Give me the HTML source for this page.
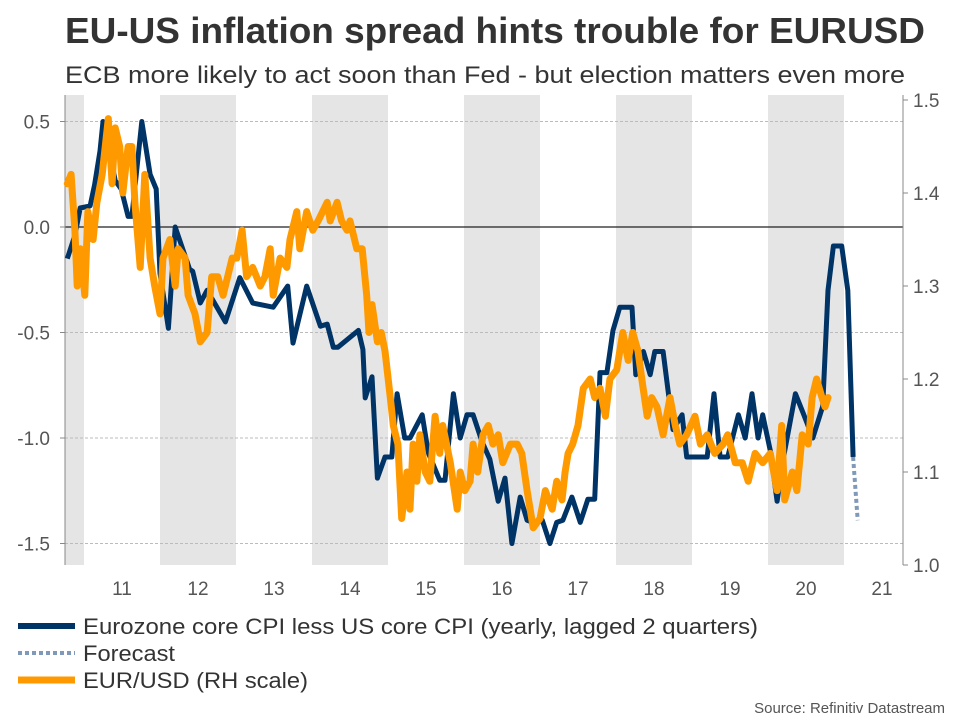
<!DOCTYPE html>
<html><head><meta charset="utf-8"><style>
body{margin:0;background:#fff;font-family:"Liberation Sans",sans-serif;}
svg text{font-family:"Liberation Sans",sans-serif;}
</style></head><body>
<svg id="chart" width="960" height="720" xmlns="http://www.w3.org/2000/svg">
<text x="65" y="43" font-size="36" font-weight="bold" fill="#333" textLength="860" lengthAdjust="spacingAndGlyphs">EU-US inflation spread hints trouble for EURUSD</text>
<text x="65" y="83" font-size="24" fill="#333" textLength="840" lengthAdjust="spacingAndGlyphs">ECB more likely to act soon than Fed - but election matters even more</text>
<g id="bands"></g><g id="grid"></g><g id="axes"></g><g id="series"></g>
<g>
<line x1="18" y1="626" x2="75" y2="626" stroke="#003366" stroke-width="6"/>
<text x="83" y="634" font-size="22" fill="#333" textLength="675" lengthAdjust="spacingAndGlyphs">Eurozone core CPI less US core CPI (yearly, lagged 2 quarters)</text>
<line x1="18" y1="653" x2="75" y2="653" stroke="#8099b8" stroke-width="4" stroke-dasharray="4,3"/>
<text x="83" y="661" font-size="22" fill="#333" textLength="92" lengthAdjust="spacingAndGlyphs">Forecast</text>
<line x1="18" y1="680" x2="75" y2="680" stroke="#ff9900" stroke-width="7"/>
<text x="83" y="688" font-size="22" fill="#333" textLength="225" lengthAdjust="spacingAndGlyphs">EUR/USD (RH scale)</text>
</g>
<text x="945" y="713" font-size="15" fill="#555" text-anchor="end">Source: Refinitiv Datastream</text>
</svg>
<script>
const yearLabels=["11","12","13","14","15","16","17","18","19","20","21"];
const leftTicks=[0.5,0,-0.5,-1,-1.5];
const leftTickLabels=["0.5","0.0","-0.5","-1.0","-1.5"];
const rightTicks=[1.5,1.4,1.3,1.2,1.1,1.0];
const rightTickLabels=["1.5","1.4","1.3","1.2","1.1","1.0"];
const bandStarts=[2010.75,2012,2014,2016,2018,2020];
const bandEnds=[2011,2013,2015,2017,2019,2021];
const spreadDates=[2010.78,2010.88,2010.95,2011.08,2011.14,2011.21,2011.25,2011.32,2011.41,2011.49,2011.58,2011.63,2011.76,2011.87,2011.95,2012.0,2012.11,2012.2,2012.39,2012.43,2012.53,2012.62,2012.86,2013.05,2013.22,2013.49,2013.68,2013.75,2013.93,2014.11,2014.2,2014.28,2014.34,2014.61,2014.67,2014.7,2014.79,2014.86,2014.96,2015.05,2015.12,2015.22,2015.29,2015.45,2015.53,2015.68,2015.75,2015.86,2015.95,2016.04,2016.12,2016.24,2016.34,2016.45,2016.54,2016.63,2016.74,2016.83,2016.91,2017.03,2017.13,2017.22,2017.3,2017.42,2017.53,2017.63,2017.72,2017.79,2017.88,2017.96,2018.05,2018.21,2018.26,2018.36,2018.45,2018.51,2018.62,2018.75,2018.87,2018.93,2019.07,2019.2,2019.29,2019.37,2019.47,2019.61,2019.7,2019.79,2019.87,2019.93,2020.03,2020.12,2020.2,2020.36,2020.46,2020.59,2020.72,2020.79,2020.86,2020.97,2021.05,2021.12];
const spreadValues=[-0.15,-0.04,0.09,0.10,0.20,0.36,0.50,0.39,0.22,0.18,0.05,0.05,0.50,0.25,0.18,-0.22,-0.48,0.00,-0.20,-0.21,-0.36,-0.30,-0.45,-0.24,-0.36,-0.38,-0.28,-0.55,-0.28,-0.47,-0.46,-0.57,-0.57,-0.49,-0.58,-0.81,-0.71,-1.19,-1.09,-1.09,-0.79,-1.00,-1.00,-0.89,-1.07,-1.20,-1.20,-0.79,-1.00,-0.89,-0.89,-1.02,-1.10,-1.30,-1.19,-1.50,-1.28,-1.39,-1.40,-1.39,-1.50,-1.40,-1.39,-1.28,-1.40,-1.29,-1.29,-0.69,-0.69,-0.49,-0.38,-0.38,-0.70,-0.59,-0.70,-0.59,-0.59,-0.96,-0.89,-1.09,-1.09,-1.09,-0.79,-1.09,-1.09,-0.89,-1.00,-0.79,-1.00,-0.89,-1.06,-1.30,-1.10,-0.79,-0.88,-1.00,-0.85,-0.30,-0.09,-0.09,-0.30,-1.09];
const forecastDates=[2021.12,2021.18];
const forecastValues=[-1.09,-1.39];
const fxDates=[2010.78,2010.83,2010.88,2010.91,2010.95,2011.01,2011.05,2011.12,2011.17,2011.24,2011.32,2011.37,2011.41,2011.47,2011.51,2011.58,2011.63,2011.67,2011.74,2011.80,2011.87,2011.93,2012.00,2012.04,2012.13,2012.20,2012.24,2012.33,2012.37,2012.46,2012.53,2012.62,2012.68,2012.76,2012.83,2012.95,2013.01,2013.08,2013.14,2013.22,2013.32,2013.38,2013.45,2013.49,2013.58,2013.67,2013.71,2013.80,2013.84,2013.93,2014.01,2014.08,2014.20,2014.24,2014.33,2014.39,2014.46,2014.50,2014.59,2014.66,2014.72,2014.75,2014.79,2014.86,2014.91,2014.96,2015.03,2015.07,2015.13,2015.18,2015.25,2015.29,2015.33,2015.38,2015.42,2015.49,2015.55,2015.62,2015.68,2015.72,2015.82,2015.91,2015.95,2016.01,2016.08,2016.12,2016.18,2016.25,2016.32,2016.38,2016.45,2016.51,2016.61,2016.70,2016.76,2016.83,2016.91,2017.00,2017.07,2017.16,2017.22,2017.29,2017.33,2017.37,2017.43,2017.50,2017.57,2017.66,2017.72,2017.79,2017.86,2017.92,2018.01,2018.09,2018.16,2018.22,2018.29,2018.34,2018.41,2018.47,2018.54,2018.62,2018.71,2018.78,2018.84,2018.93,2019.04,2019.11,2019.20,2019.30,2019.41,2019.47,2019.57,2019.66,2019.74,2019.83,2019.93,2020.03,2020.12,2020.18,2020.22,2020.32,2020.38,2020.45,2020.53,2020.58,2020.64,2020.71,2020.75,2020.79];
const fxValues=[1.41,1.42,1.36,1.30,1.34,1.29,1.38,1.35,1.39,1.42,1.48,1.41,1.47,1.45,1.40,1.45,1.45,1.39,1.32,1.42,1.33,1.30,1.27,1.33,1.35,1.30,1.34,1.33,1.29,1.27,1.24,1.25,1.31,1.31,1.29,1.33,1.33,1.36,1.31,1.32,1.30,1.31,1.34,1.29,1.33,1.32,1.35,1.38,1.34,1.38,1.36,1.37,1.39,1.37,1.39,1.37,1.36,1.37,1.34,1.34,1.29,1.25,1.28,1.24,1.25,1.23,1.18,1.15,1.13,1.05,1.10,1.06,1.13,1.09,1.14,1.10,1.09,1.16,1.12,1.15,1.11,1.06,1.10,1.08,1.09,1.13,1.10,1.14,1.15,1.13,1.14,1.11,1.13,1.13,1.12,1.08,1.04,1.05,1.08,1.06,1.09,1.07,1.10,1.12,1.13,1.15,1.19,1.20,1.18,1.19,1.16,1.20,1.21,1.25,1.22,1.25,1.23,1.20,1.16,1.18,1.17,1.14,1.18,1.15,1.13,1.14,1.16,1.13,1.14,1.12,1.13,1.14,1.11,1.11,1.09,1.12,1.11,1.12,1.08,1.15,1.07,1.10,1.08,1.14,1.13,1.18,1.20,1.18,1.17,1.18];

const NS="http://www.w3.org/2000/svg";
const PL=65,PR=903,PT=95,PB=565;
const xS=t=>84+(t-2011)*76;
const yL=v=>227-v*211;
const yR=v=>PB-(v-1.0)*930;
function mk(tag,attrs,parent){const e=document.createElementNS(NS,tag);for(const k in attrs)e.setAttribute(k,attrs[k]);parent.appendChild(e);return e;}
const bands=document.getElementById('bands'),grid=document.getElementById('grid'),axes=document.getElementById('axes'),series=document.getElementById('series');
bandStarts.forEach((s,i)=>{const x0=Math.max(PL,xS(s)),x1=xS(bandEnds[i]);
 const r=mk('rect',{x:x0,y:PT,width:x1-x0,height:PB-PT,fill:'#e5e5e5'},bands);
 
 });
leftTicks.forEach((v,i)=>{const y=yL(v);
 const g=mk('line',{x1:PL,x2:PR,y1:y,y2:y,stroke:v===0?'#222':'#bbb','stroke-width':v===0?1.3:1,'stroke-dasharray':v===0?'none':'3,2'},grid);
 
 
 const t=mk('text',{x:50,y:y+7,'font-size':19,fill:'#555','text-anchor':'end'},axes);t.textContent=leftTickLabels[i];
 
 
 mk('line',{x1:PL-5,x2:PL,y1:y,y2:y,stroke:'#888'},axes);});
rightTicks.forEach((v,i)=>{const y=yR(v);
 const t=mk('text',{x:913,y:y+7,'font-size':19,fill:'#555'},axes);t.textContent=rightTickLabels[i];
 
 
 mk('line',{x1:PR,x2:PR+5,y1:y,y2:y,stroke:'#888'},axes);});
let l1=mk('line',{x1:PL,x2:PL,y1:PT,y2:PB,stroke:'#888'},axes);


let l2=mk('line',{x1:PR,x2:PR,y1:PT,y2:PB,stroke:'#888'},axes);


yearLabels.forEach((lab,i)=>{const yr=2011+i;
 const t=mk('text',{x:xS(yr+0.5),y:595,'font-size':19,fill:'#555','text-anchor':'middle'},axes);t.textContent=lab;
 
 });
const pts=(d,v,f)=>d.map((t,i)=>xS(t).toFixed(1)+','+f(v[i]).toFixed(1)).join(' ');
const sp=mk('polyline',{points:pts(spreadDates,spreadValues,yL),fill:'none',stroke:'#003366','stroke-width':5,'stroke-linejoin':'round'},series);


const fc=mk('polyline',{points:pts(forecastDates,forecastValues,yL),fill:'none',stroke:'#8099b8','stroke-width':4,'stroke-dasharray':'4,3'},series);


const fx=mk('polyline',{points:pts(fxDates,fxValues,yR),fill:'none',stroke:'#ff9900','stroke-width':7,'stroke-linejoin':'round','stroke-linecap':'round'},series);


</script>
</body></html>
